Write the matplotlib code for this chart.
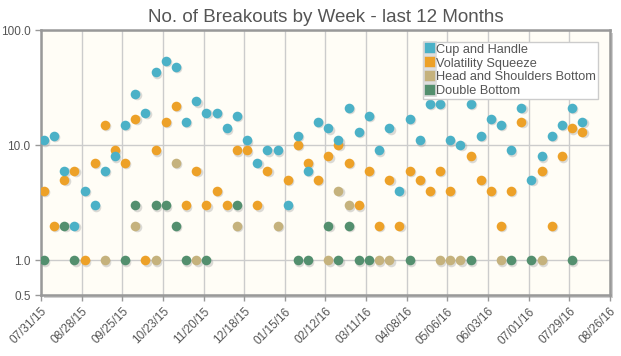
import numpy as np
import pandas as pd
import matplotlib
matplotlib.use('Agg')
import matplotlib.pyplot as plt
import matplotlib.dates as mdates
import matplotlib.transforms as mtransforms
from matplotlib.lines import Line2D
from matplotlib.patches import Rectangle

plt.rcParams['font.family'] = ['Liberation Sans', 'DejaVu Sans']

weeks = pd.date_range('2015-08-02', periods=54, freq='7D')

cup_handle = [11, 12, 6, 2, 4, 3, 6, 8, 15, 28,
              19, 43, 54, 48, 16, 24, 19, 19, 14, 18,
              11, 7, 9, 9, 3, 12, 6, 16, 14, 11,
              21, 13, 18, 9, 14, 4, 17, 11, 23, 23,
              11, 10, 23, 12, 17, 15, 9, 21, 5, 8,
              12, 15, 21, 16]
vol_squeeze = [4, 2, 5, 6, 1, 7, 15, 9, 7, 17,
               1, 9, 16, 22, 3, 6, 3, 4, 3, 9,
               9, 3, 6, None, 5, 10, 7, 5, 8, 10,
               7, 3, 6, 2, 5, 2, 6, 5, 4, 6,
               4, None, 8, 5, 4, 2, 4, 16, None, 6,
               2, 8, 14, 13]
# sparse series: week index -> count
hs_bottom = {6: 1, 9: 2, 11: 1, 13: 7, 15: 1, 19: 2, 23: 2, 28: 1, 29: 4,
             30: 3, 33: 1, 34: 1, 39: 1, 40: 1, 41: 1, 45: 1, 49: 1}
dbl_bottom = {0: 1, 2: 2, 3: 1, 8: 1, 9: 3, 11: 3, 12: 3, 13: 2, 14: 1,
              16: 1, 19: 3, 25: 1, 26: 1, 28: 2, 29: 1, 30: 2, 31: 1, 32: 1,
              36: 1, 42: 1, 46: 1, 48: 1, 52: 1}

names = ['Cup and Handle', 'Volatility Squeeze', 'Head and Shoulders Bottom', 'Double Bottom']
colors = ['#4bb1c7', '#eda128', '#c5b27d', '#538f6e']

def to_series(vals):
    if isinstance(vals, dict):
        idx = sorted(vals)
        return weeks[idx], [vals[i] for i in idx]
    pairs = [(d, v) for d, v in zip(weeks, vals) if v is not None]
    return [p[0] for p in pairs], [p[1] for p in pairs]

fig = plt.figure(figsize=(6.21, 3.56), dpi=100)
fig.patch.set_facecolor('white')
ax = fig.add_axes([0.066, 0.1713, 0.916, 0.7444])
ax.set_facecolor('#fffdf6')

# frame shadow
shadow = Rectangle((0.066 + 3/621, 0.1713 - 3/356), 0.916, 0.7444,
                   transform=fig.transFigure, facecolor='#d0d0d0',
                   edgecolor='none', zorder=-1)
fig.patches.append(shadow)

text_col = '#555555'
sh = mtransforms.offset_copy(ax.transData, fig=fig, x=1.3, y=-1.3, units='dots')
for vals, c in zip([dbl_bottom, hs_bottom, vol_squeeze, cup_handle], colors[::-1]):
    x, y = to_series(vals)
    xn = mdates.date2num(x)
    ax.scatter(xn, y, s=48, color='#999999', alpha=0.35, linewidths=0,
               transform=sh, zorder=2)
    ax.scatter(xn, y, s=48, color=c, linewidths=0, zorder=3)

ax.set_yscale('log')
ax.set_ylim(0.5, 100)
ax.set_yticks([0.5, 1, 10, 100])
ax.set_yticklabels(['0.5', '1.0', '10.0', '100.0'])
ax.yaxis.set_minor_locator(matplotlib.ticker.NullLocator())

start = pd.Timestamp('2015-07-31')
end = pd.Timestamp('2016-08-26')
ax.set_xlim(mdates.date2num(start), mdates.date2num(end))
xticks = pd.date_range(start, end, freq='28D')
ax.set_xticks(mdates.date2num(xticks))
ax.set_xticklabels([d.strftime('%m/%d/%y') for d in xticks], rotation=45,
                   ha='right', rotation_mode='anchor')

ax.grid(True, color='#cccccc', linewidth=1)
ax.set_axisbelow(True)
for s in ax.spines.values():
    s.set_color('#999999')
    s.set_linewidth(1.8)
ax.tick_params(colors='#999999', labelcolor=text_col, labelsize=8.5,
               length=4, width=1)

ax.set_title('No. of Breakouts by Week - last 12 Months', color=text_col,
             fontsize=13.5, pad=6)

handles = [Line2D([], [], marker='s', linestyle='none', markersize=9,
                  markerfacecolor=c, markeredgecolor='#d8d8d8', markeredgewidth=1.2)
           for c in colors]
leg = ax.legend(handles, names, loc='upper right', bbox_to_anchor=(0.979, 0.955),
                borderaxespad=0, fontsize=9.2, labelspacing=0.14,
                handlelength=0.7, handletextpad=0.15, borderpad=0.15,
                frameon=True, fancybox=False, framealpha=1)
leg.get_frame().set_edgecolor('#cccccc')
leg.get_frame().set_facecolor('white')
for t in leg.get_texts():
    t.set_color(text_col)

fig.savefig('out.png', dpi=100)
